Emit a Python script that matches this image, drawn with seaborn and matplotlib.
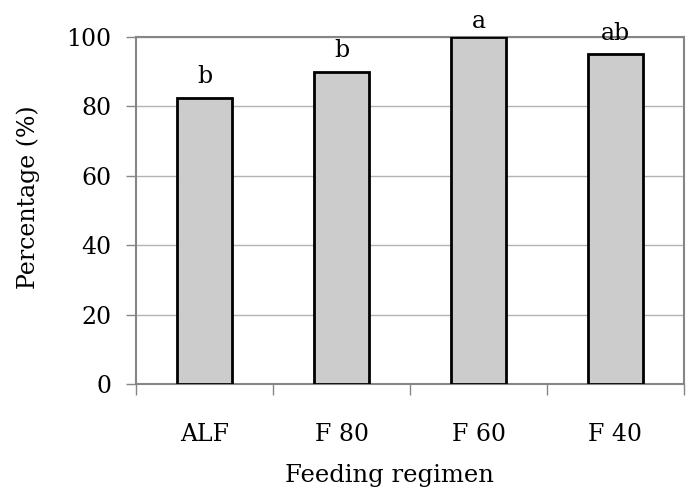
import numpy as np
import pandas as pd
import matplotlib
matplotlib.use("Agg")
import matplotlib.pyplot as plt
import seaborn as sns

regimens = ["ALF", "F 80", "F 60", "F 40"]
percentages = [82.5, 90, 100, 95]
letters = ["b", "b", "a", "ab"]

sns.set_style("white")
plt.rcParams['font.family'] = ['DejaVu Serif']
plt.rcParams['text.color'] = 'black'
plt.rcParams['xtick.labelcolor'] = 'black'
plt.rcParams['ytick.labelcolor'] = 'black'
plt.rcParams['axes.labelcolor'] = 'black'

df = pd.DataFrame({"regimen": regimens, "pct": percentages})

fig = plt.figure(figsize=(6.88, 4.87), dpi=100)
ax = fig.add_axes([0.198, 0.2115, 0.796, 0.7125])

sns.barplot(data=df, x="regimen", y="pct", color="#cccccc", edgecolor="black",
            linewidth=2, width=0.4, saturation=1, ax=ax, zorder=3)

ax.set_ylim(0, 100)
ax.set_xlim(-0.5, len(regimens) - 0.5)
ax.set_yticks([0, 20, 40, 60, 80, 100])
ax.yaxis.grid(True, color="#b3b3b3", linewidth=1, zorder=0)
ax.set_axisbelow(True)

# category boundaries get ticks, names sit between them
ax.set_xticks(np.arange(-0.5, len(regimens)), labels=[""] * (len(regimens) + 1))
ax.set_xticks(np.arange(len(regimens)), labels=regimens, minor=True)
ax.tick_params(axis="x", which="major", length=8, width=1, color="#868686", direction="out", bottom=True)
ax.tick_params(axis="x", which="minor", length=0, pad=28, labelsize=17)
ax.tick_params(axis="y", length=7, width=1, color="#868686", direction="out", left=True, pad=11, labelsize=17)

for s in ax.spines.values():
    s.set_color("#868686")
    s.set_linewidth(1.5)

# letters sit just above each bar, but never higher than just over the frame
for i, (v, t) in enumerate(zip(percentages, letters)):
    ax.text(i, min(v + 4.2, 102.6), t, ha="center", va="baseline", fontsize=17, clip_on=False)

ax.set_xlabel("Feeding regimen", fontsize=17.5, va="baseline")
ax.set_ylabel("Percentage (%)", fontsize=17, va="center")
ax.xaxis.set_label_coords(0.462, -0.282)
ax.yaxis.set_label_coords(-0.197, 0.539)

fig.savefig("out.png", dpi=100)
